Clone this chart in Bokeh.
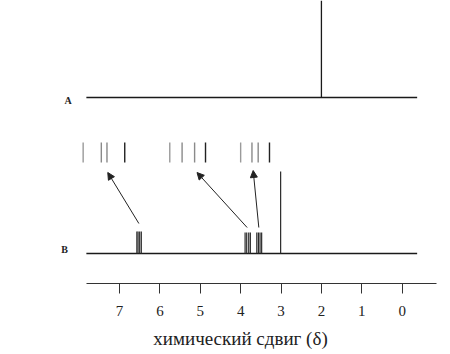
from bokeh.plotting import figure
from bokeh.models import Range1d, FixedTicker, Arrow, NormalHead, ColumnDataSource
from bokeh.core.properties import value
from bokeh.embed import file_html
from bokeh.resources import INLINE

# ---- data (chemical shift, ppm) ----
trace_labels = ["A", "B"]
ppm_span = [7.82, -0.37]           # extent of recorded baseline
a_peak_ppm = [2.0]
a_peak_height = [97]
b_peak_ppm = [6.57, 6.54, 6.50, 6.46,
              3.89, 3.85, 3.80, 3.76,
              3.60, 3.56, 3.52, 3.48,
              3.01]
b_peak_height = [22, 22, 22, 22,
                 21, 21, 21, 21,
                 21, 21, 21, 21,
                 82]
# expanded multiplets drawn above trace B
exp_ppm = [7.90, 7.45, 7.31, 6.87,
           5.755, 5.45, 5.14, 4.87,
           4.00, 3.72, 3.566, 3.286]
exp_height = [20] * 12
# arrows: (from multiplet in B) -> (expansion)
arrow_from_ppm = [6.52, 3.84, 3.55]
arrow_from_y = [30, 26, 26]
arrow_to_ppm = [7.29, 5.08, 3.69]
arrow_to_y = [81, 81, 83]
tick_values = [0, 1, 2, 3, 4, 5, 6, 7]
axis_title = "химический сдвиг (δ)"

A_OFF = 156
B_OFF = 0
EXP_OFF = 91
SERIF = "Liberation Serif"

p = figure(width=450, height=354, frame_width=420, frame_height=283,
           x_range=Range1d(9.2035, -1.196), y_range=Range1d(-30, 253),
           output_backend="svg", toolbar_location=None,
           min_border_left=30, min_border_right=0, min_border_top=0, min_border_bottom=0)
p.outline_line_color = None
p.xgrid.visible = False
p.ygrid.visible = False
p.yaxis.visible = False

# trace A
p.line(x=ppm_span, y=[A_OFF, A_OFF], line_color="#1a1a1a", line_width=1.3)
p.segment(x0=a_peak_ppm, y0=[A_OFF] * len(a_peak_ppm), x1=a_peak_ppm,
          y1=[A_OFF + h for h in a_peak_height], line_color="#1a1a1a", line_width=1.3)

# trace B
p.line(x=ppm_span, y=[B_OFF, B_OFF], line_color="#1a1a1a", line_width=1.3)
p.segment(x0=b_peak_ppm, y0=[B_OFF] * len(b_peak_ppm), x1=b_peak_ppm,
          y1=[B_OFF + h for h in b_peak_height], line_color="#2a2a2a", line_width=1.2)

# expansions
exp_colors = ["#9a9a9a", "#8a8a8a", "#8a8a8a", "#222222"] * 3
src = ColumnDataSource(dict(x=exp_ppm, y0=[EXP_OFF] * len(exp_ppm),
                            y1=[EXP_OFF + h for h in exp_height],
                            c=exp_colors))
p.segment(x0="x", y0="y0", x1="x", y1="y1", source=src, line_color="c", line_width=1.4)

# arrows
for xs, ys, xe, ye in zip(arrow_from_ppm, arrow_from_y, arrow_to_ppm, arrow_to_y):
    p.add_layout(Arrow(x_start=xs, y_start=ys, x_end=xe, y_end=ye,
                       line_color="#222222", line_width=1,
                       end=NormalHead(size=7, fill_color="#222222", line_color="#222222")))

# trace labels
p.text(x=[8.275, 8.36], y=[A_OFF - 3, B_OFF + 4], text=trace_labels,
       text_font=value(SERIF), text_font_size="10px", text_font_style="bold",
       text_align="center", text_baseline="middle", text_color="#222222")

ax = p.xaxis[0]
ax.ticker = FixedTicker(ticks=tick_values)
ax.bounds = (-0.84, 7.82)
ax.axis_line_color = "#333333"
ax.axis_line_width = 1
ax.major_tick_line_color = "#333333"
ax.major_tick_in = 0
ax.major_tick_out = 10
ax.minor_tick_line_color = None
ax.major_label_text_font = SERIF
ax.major_label_text_font_size = "15px"
ax.major_label_text_color = "#222222"
ax.major_label_standoff = 12
ax.axis_label = axis_title
ax.axis_label_text_font = SERIF
ax.axis_label_text_font_size = "19px"
ax.axis_label_text_font_style = "normal"
ax.axis_label_text_color = "#222222"
ax.axis_label_standoff = 9

open("out.html", "w").write(file_html(p, INLINE))
